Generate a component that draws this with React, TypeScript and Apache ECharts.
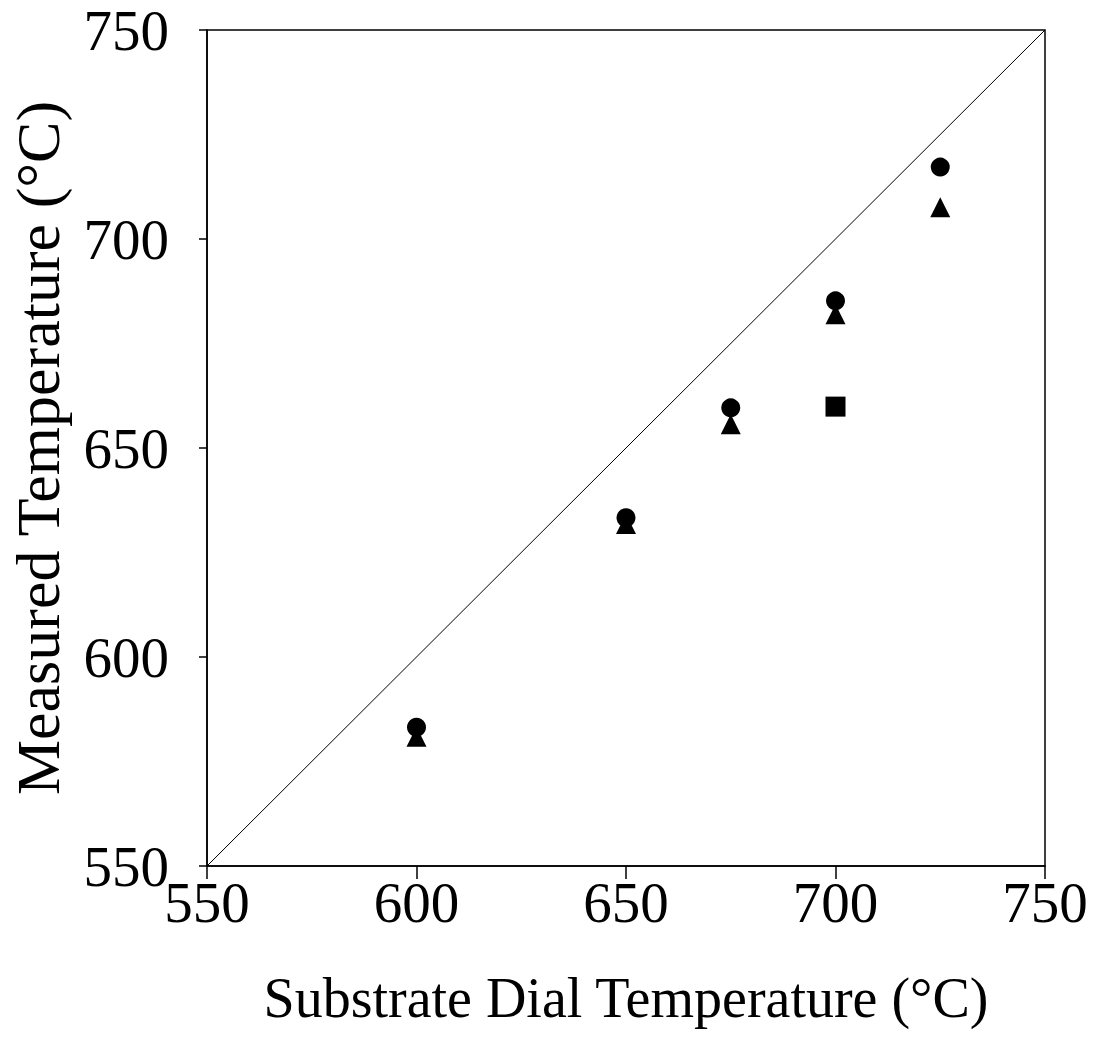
import React, { useEffect, useRef } from "react";
import * as echarts from "echarts";

const xTicks = [550, 600, 650, 700, 750];
const circleX = [600, 650, 675, 700, 725];
const circleY = [583.2, 633.3, 659.6, 685.2, 717.2];
const triangleX = [600, 650, 675, 700, 725];
const triangleY = [580.9, 631.8, 655.7, 682.0, 707.6];
const squareX = [700];
const squareY = [659.9];
const diagX = [550, 750];
const diagY = [550, 750];

const FONT = "Liberation Serif";

export default function App() {
  const ref = useRef<HTMLDivElement>(null);
  useEffect(() => {
    if (!ref.current) return;
    const chart = echarts.init(ref.current, null, { renderer: "svg" });
    const zip = (xs: number[], ys: number[]) => xs.map((x, i) => [x, ys[i]]);
    const axisCommon = {
      type: "value" as const,
      min: xTicks[0],
      max: xTicks[xTicks.length - 1],
      interval: 50,
      splitLine: { show: false },
      axisLine: { show: true, lineStyle: { color: "#000", width: 1.5 } },
      axisTick: { show: true, inside: false, lineStyle: { color: "#000", width: 1.5 } },
      nameLocation: "middle" as const,
      axisLabel: { fontFamily: FONT, fontSize: 57, color: "#000" },
    };
    chart.setOption({
      animation: false,
      backgroundColor: "#fff",
      grid: {
        left: 207,
        right: 48,
        top: 30,
        bottom: 189,
        show: true,
        borderColor: "#000",
        borderWidth: 1.5,
        outerBoundsMode: "none",
        containLabel: false,
      },
      xAxis: {
        ...axisCommon,
        name: "Substrate Dial Temperature (°C)",
        nameGap: 104,
        nameTextStyle: { fontFamily: FONT, fontSize: 56, color: "#000" },
        axisTick: { ...axisCommon.axisTick, length: 13 },
        axisLabel: { ...axisCommon.axisLabel, margin: 8 },
      },
      yAxis: {
        ...axisCommon,
        name: "Measured Temperature (°C)",
        nameGap: 138,
        nameTextStyle: { fontFamily: FONT, fontSize: 62, color: "#000" },
        axisTick: { ...axisCommon.axisTick, length: 8 },
        axisLabel: { ...axisCommon.axisLabel, margin: 38 },
      },
      series: [
        {
          type: "line",
          data: zip(diagX, diagY),
          symbol: "none",
          lineStyle: { color: "#000", width: 1 },
          silent: true,
        },
        {
          type: "scatter",
          data: zip(circleX, circleY),
          symbol: "circle",
          symbolSize: 19,
          itemStyle: { color: "#000", opacity: 1 },
        },
        {
          type: "scatter",
          data: zip(triangleX, triangleY),
          symbol: "triangle",
          symbolSize: 20,
          itemStyle: { color: "#000", opacity: 1 },
        },
        {
          type: "scatter",
          data: zip(squareX, squareY),
          symbol: "rect",
          symbolSize: 20,
          itemStyle: { color: "#000", opacity: 1 },
        },
      ],
    });
    return () => chart.dispose();
  }, []);
  return (
    <div
      ref={ref}
      style={{ position: "fixed", left: 0, top: 0, width: 1093, height: 1055 }}
    />
  );
}
